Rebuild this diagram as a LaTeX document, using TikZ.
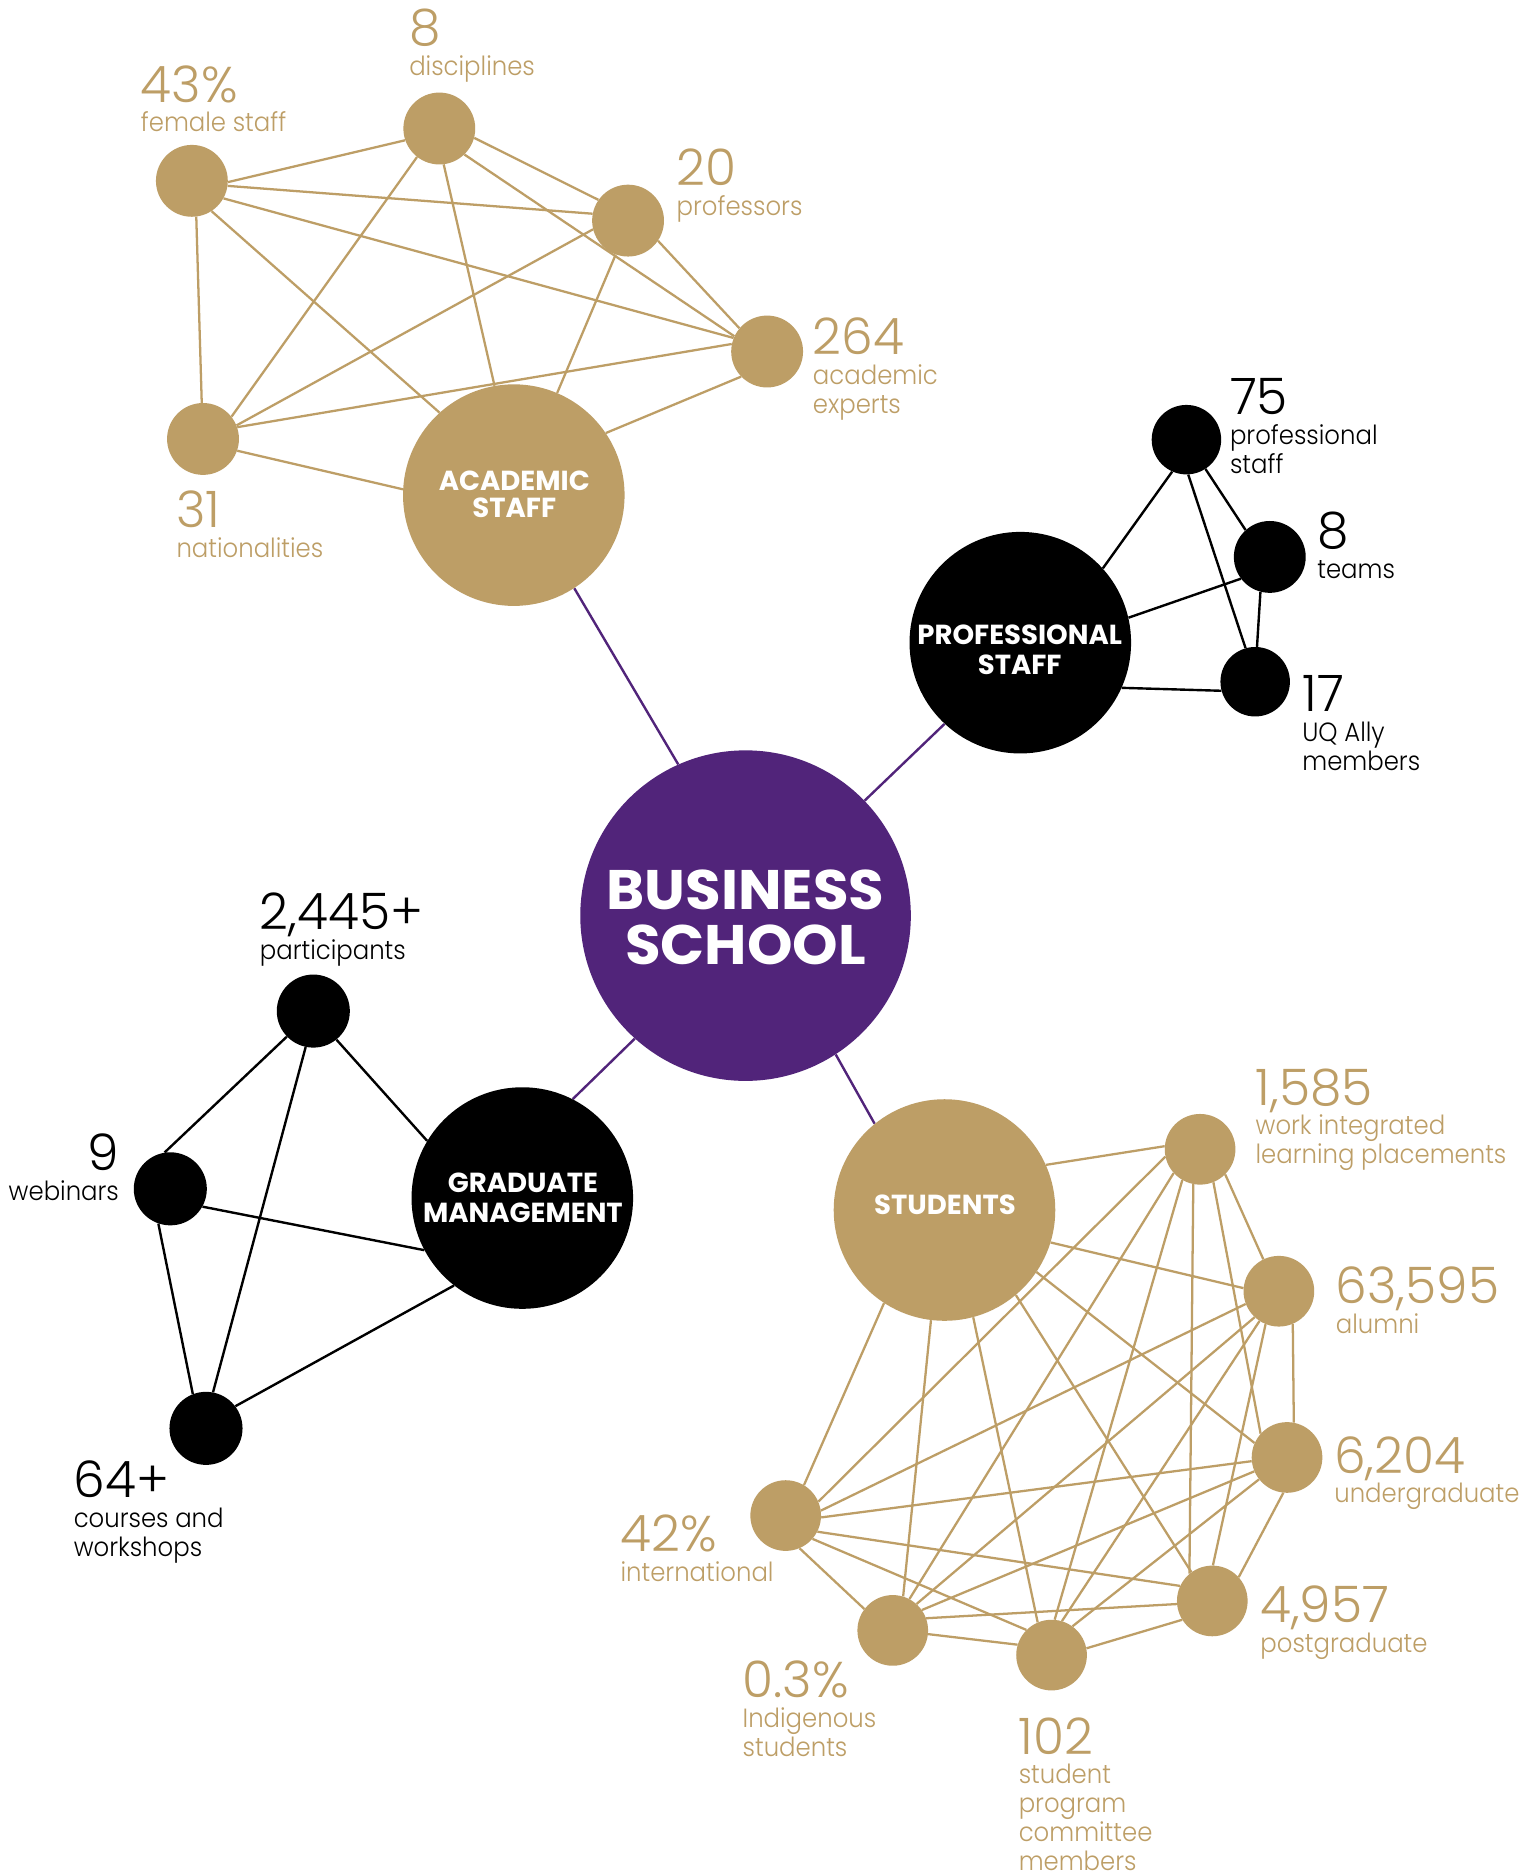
\documentclass[tikz,border=0pt]{standalone}
\usepackage{fontspec}
\IfFontExistsTF{Poppins Light}{%
  \newfontfamily\lightfont{Poppins Light}%
  \newfontfamily\descfont{Poppins Light}[FakeStretch=0.925]}{%
  \newfontfamily\lightfont{Poppins}%
  \newfontfamily\descfont{Poppins}[FakeStretch=0.925]}
\IfFontExistsTF{Poppins Bold}{%
  \newfontfamily\heavyfont{Poppins Bold}%
  \newfontfamily\titlefont{Poppins Bold}[FakeStretch=1.04]}{%
  \newfontfamily\heavyfont{Poppins}[FakeBold=2]%
  \newfontfamily\titlefont{Poppins}[FakeBold=2,FakeStretch=1.04]}
\definecolor{gold}{RGB}{189,158,102}
\definecolor{uqpurple}{RGB}{81,36,122}
\pgfdeclarelayer{background}
\pgfsetlayers{background,main}
\newcommand\numsize{\lightfont\fontsize{42}{42}\selectfont}
\newcommand\descsize{\descfont\fontsize{22}{24}\selectfont}
\newcommand\hubfont{\heavyfont\fontsize{23}{25}\selectfont}
\newcommand\bigfont{\titlefont\fontsize{46.5}{46.6}\selectfont}
\newcommand\dl[1]{\hbox{\descsize #1}\baselineskip=24.2pt\relax}
\newcommand\statbox[2]{\vtop{\lineskiplimit=-1000pt\relax\lineskip=0pt\relax\hbox{\numsize #1}\baselineskip=24.8pt\relax #2}}
\tikzset{
  gdot/.style={circle, fill=gold, minimum size=60pt, inner sep=0pt},
  bdot/.style={circle, fill=black, minimum size=58pt, inner sep=0pt},
  hub/.style={circle, minimum size=185pt, inner sep=0pt},
  hubtext/.style={anchor=base, inner sep=0pt, text=white, font=\hubfont},
  bigtext/.style={anchor=base, inner sep=0pt, text=white, font=\bigfont},
  gline/.style={draw=gold, line width=1.9pt},
  bline/.style={draw=black, line width=2pt},
  pline/.style={draw=uqpurple, line width=2pt},
  lbl/.style={anchor=base west, inner sep=0pt},
  lblR/.style={anchor=base east, inner sep=0pt},
}
\begin{document}
\begin{tikzpicture}[x=1pt,y=-1pt]
\begin{pgfonlayer}{background}
\fill[white] (0,0) rectangle (1280,1564.7);
\end{pgfonlayer}
\useasboundingbox (0,0) rectangle (1280,1564.7);

% ---------- central node ----------
\node[circle, fill=uqpurple, minimum size=276pt, inner sep=0pt] (bs) at (622.5,764.5) {};
\node[bigtext] (bs1) at (622.5,759) {BUSINESS};
\node[bigtext] (bs2) at (622.5,805.6) {SCHOOL};

% ---------- academic staff ----------
\node[hub, fill=gold] (as) at (429,413.4) {};
\node[hubtext] (as1) at (429.4,409.4) {ACADEMIC};
\node[hubtext] (as2) at (429.4,432.5) {STAFF};
\node[gdot] (fem) at (160.2,151) {};
\node[gdot] (dis) at (366.8,107.3) {};
\node[gdot] (pro) at (524.4,184.2) {};
\node[gdot] (exp) at (640.5,293.5) {};
\node[gdot] (nat) at (169.5,366.5) {};

% ---------- professional staff ----------
\node[hub, fill=black] (ps) at (851.9,536.6) {};
\node[hubtext] (ps1) at (851.4,538.5) {PROFESSIONAL};
\node[hubtext] (ps2) at (851.4,563) {STAFF};
\node[bdot] (p75) at (990.6,367.1) {};
\node[bdot, minimum size=60pt] (team) at (1060.2,465) {};
\node[bdot] (ally) at (1048,569.2) {};

% ---------- graduate management ----------
\node[hub, fill=black] (gm) at (436.1,1000.3) {};
\node[hubtext] (gm1) at (436.6,995.7) {GRADUATE};
\node[hubtext] (gm2) at (436.6,1020.7) {MANAGEMENT};
\node[bdot, minimum size=61pt] (part) at (261.6,844.2) {};
\node[bdot, minimum size=61pt] (web) at (142.2,992.6) {};
\node[bdot, minimum size=61pt] (crs) at (172,1192.6) {};

% ---------- students ----------
\node[hub, fill=gold] (st) at (788.6,1010.3) {};
\node[hubtext] (st1) at (789,1014) {STUDENTS};
\node[gdot, minimum size=59pt] (wil) at (1002,959.6) {};
\node[gdot, minimum size=59pt] (alu) at (1067.8,1078.1) {};
\node[gdot, minimum size=59pt] (ug) at (1074.6,1216.9) {};
\node[gdot, minimum size=59pt] (pg) at (1012.2,1336.7) {};
\node[gdot, minimum size=59pt] (spc) at (878,1381.9) {};
\node[gdot, minimum size=59pt] (ind) at (745.4,1361.3) {};
\node[gdot, minimum size=59pt] (intl) at (656,1265.4) {};

% ---------- connectors ----------
\begin{pgfonlayer}{background}
\foreach \a/\b in {bs.114/as.-57, bs.44/ps.227, bs.228/gm.63, bs.-57/st.129}
  \draw[pline] (\a) -- (\b);
\foreach \a/\b in {fem.-2/dis.199, fem.-8/pro.169, fem.-29/exp.158, fem.-57/as.132, fem.-83/nat.92,
                   dis.-15/pro.145, dis.-46/exp.155, dis.232/nat.38, dis.-83/as.100,
                   pro.194/nat.22, pro.250/as.67, pro.-34/exp.140,
                   exp.168/nat.19, exp.224/as.34, nat.-19/as.177}
  \draw[gline] (\a) -- (\b);
\foreach \a/\b in {p75.246/ps.42, p75.-57/team.132, p75.-87/ally.106,
                   team.217/ps.13, team.255/ally.87, ally.195/ps.-24}
  \draw[bline] (\a) -- (\b);
\foreach \a/\b in {part.224/web.99, part.258/crs.79, part.-51/gm.149,
                   web.-29/gm.208, web.251/crs.111, crs.37/gm.232}
  \draw[bline] (\a) -- (\b);
\foreach \a/\b in {st.24/wil.175, st.-17/alu.175, st.-34/ug.156, st.-50/pg.126,
                   st.-75/spc.113, st.263/ind.73, st.237/intl.59,
                   wil.-45/alu.116, wil.-68/ug.138, wil.259/pg.130, wil.240/spc.85,
                   wil.222/ind.62, wil.192/intl.23,
                   alu.-67/ug.79, alu.248/pg.89, alu.237/spc.73, alu.227/ind.48, alu.201/intl.8,
                   ug.264/pg.42, ug.218/spc.54, ug.203/ind.35, ug.186/intl.-3,
                   pg.212/spc.11, pg.185/ind.20, pg.155/intl.-27,
                   spc.163/ind.-6, spc.135/intl.-41, ind.143/intl.-67}
  \draw[gline] (\a) -- (\b);
\end{pgfonlayer}

% ---------- labels: academic ----------
\node[lbl, text=gold] (l43) at (117.5,85.2) {\statbox{43\%}{\dl{female staff}}};
\node[lbl, text=gold] (l8d) at (341.5,38) {\statbox{8}{\dl{disciplines}}};
\node[lbl, text=gold] (l20) at (564.8,155.2) {\statbox{20}{\dl{professors}}};
\node[lbl, text=gold] (l264) at (678.6,296.4) {\statbox{264}{\dl{academic}\dl{experts}}};
\node[lbl, text=gold] (l31) at (147.2,440.7) {\statbox{31}{\dl{nationalities}}};

% ---------- labels: professional ----------
\node[lbl, text=black] (l75) at (1026.8,346.5) {\statbox{75}{\dl{professional}\dl{staff}}};
\node[lbl, text=black] (l8t) at (1099.7,457.8) {\statbox{8}{\dl{teams}}};
\node[lbl, text=black] (l17) at (1087.2,594.2) {\statbox{17}{\dl{UQ Ally}\dl{members}}};

% ---------- labels: graduate management ----------
\node[lbl, text=black] (l2445) at (216.8,776.3) {\statbox{2,445+}{\dl{participants}}};
\node[lblR, text=black] (l9) at (99.5,977.7) {\numsize 9};
\node[lblR, text=black] (l9d) at (99.5,1002.2) {\descsize webinars};
\node[lbl, text=black] (l64) at (61.4,1250.3) {\statbox{64+}{\dl{courses and}\dl{workshops}}};

% ---------- labels: students ----------
\node[lbl, text=gold] (l1585) at (1048.2,922.8) {\statbox{1,585}{\dl{work integrated}\dl{learning placements}}};
\node[lbl, text=gold] (l63) at (1115.2,1088.2) {\statbox{63,595}{\dl{alumni}}};
\node[lbl, text=gold] (l62) at (1113.9,1229.9) {\statbox{6,204}{\dl{undergraduate}}};
\node[lbl, text=gold] (l49) at (1052.2,1355) {\statbox{4,957}{\dl{postgraduate}}};
\node[lbl, text=gold] (l102) at (850.4,1464.7) {\statbox{102}{\dl{student}\dl{program}\dl{committee}\dl{members}}};
\node[lbl, text=gold] (l03) at (619.9,1417.2) {\statbox{0.3\%}{\dl{Indigenous}\dl{students}}};
\node[lbl, text=gold] (l42) at (518,1295.7) {\statbox{42\%}{\dl{international}}};
\end{tikzpicture}
\end{document}
